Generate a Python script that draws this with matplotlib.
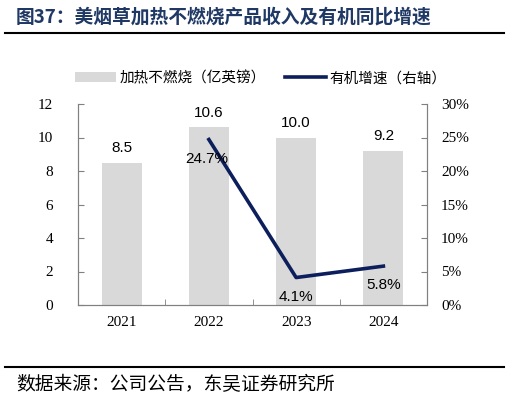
import numpy as np
import matplotlib.pyplot as plt
from matplotlib.ticker import FuncFormatter

# 数据
anos = ['2021', '2022', '2023', '2024']
receita = [8.5, 10.6, 10.0, 9.2]          # 亿英镑
crescimento = [np.nan, 24.7, 4.1, 5.8]    # %

plt.rcParams['font.family'] = ['Noto Sans CJK SC', 'DejaVu Sans']

fig = plt.figure(figsize=(5.09, 4.01), dpi=100)
W, H = 509, 401

ax = fig.add_axes([78 / W, 1 - 305 / H, (427 - 78) / W, (305 - 104) / H])
ax2 = ax.twinx()

x = np.arange(len(anos))
ax.bar(x, receita, width=0.46, color='#d9d9d9', label='加热不燃烧（亿英镑）', zorder=1)
ax2.plot(x, crescimento, color='#0c1f5c', lw=2.6, label='有机增速（右轴）', zorder=3)

ax.set_xlim(-0.5, 3.5)
ax.set_ylim(0, 12)
ax.set_yticks(range(0, 13, 2))
ax2.set_ylim(0, 30)
ax2.set_yticks(range(0, 31, 5))
ax2.yaxis.set_major_formatter(FuncFormatter(lambda v, p: f'{v:.0f}%'))

ax.set_xticks(x)
ax.set_xticklabels(anos)
ax.set_xticks([0.5, 1.5, 2.5], minor=True)
ax.tick_params(axis='x', which='major', length=0, pad=8)
ax.tick_params(axis='x', which='minor', length=4, direction='in', color='#808080')
ax.tick_params(axis='y', length=4, direction='in', color='#808080', pad=18)
ax2.tick_params(axis='y', length=4, direction='in', color='#808080', pad=10)

for a in (ax, ax2):
    a.spines['top'].set_visible(False)
    for s in ('left', 'right', 'bottom'):
        a.spines[s].set_color('#808080')
        a.spines[s].set_linewidth(0.8)
    for lab in a.get_xticklabels() + a.get_yticklabels():
        lab.set_fontfamily('Liberation Serif')
        lab.set_fontsize(11)
ax.set_zorder(ax2.get_zorder() - 1)
ax2.patch.set_visible(False)

# 数值标签
for xi, v in zip(x, receita):
    ax.text(xi, v + 0.45, f'{v:.1f}', ha='center', va='bottom',
            fontsize=11, fontfamily='Liberation Sans')
for xi, v in zip(x, crescimento):
    if np.isnan(v):
        continue
    ax2.text(xi - (0.02 if xi == 1 else 0), v - 1.8, f'{v:.1f}%', ha='center', va='top',
             fontsize=11, fontfamily='Liberation Sans')

# 图例
h1, l1 = ax.get_legend_handles_labels()
h2, l2 = ax2.get_legend_handles_labels()
fig.legend(h1 + h2, l1 + l2, loc='center', bbox_to_anchor=(261 / W, 1 - 78 / H), ncol=2,
           frameon=False, handlelength=2.8, handletextpad=0.25,
           columnspacing=1.3, prop={'family': ['Noto Sans CJK SC', 'DejaVu Sans'], 'size': 10.5})

# 标题与来源
fig.text(16 / W, 1 - 17 / H, '图37：美烟草加热不燃烧产品收入及有机同比增速',
         fontsize=13.5, fontweight='bold', color='#1f3864', va='center')
fig.add_artist(plt.Line2D([5 / W, 504 / W], [1 - 33 / H, 1 - 33 / H], color='black', lw=1.5))
fig.add_artist(plt.Line2D([5 / W, 504 / W], [1 - 367 / H, 1 - 367 / H], color='black', lw=1.5))
fig.text(16 / W, 1 - 385 / H, '数据来源：公司公告，东吴证券研究所', fontsize=13.5, va='center')

fig.savefig('out.png', dpi=100)
